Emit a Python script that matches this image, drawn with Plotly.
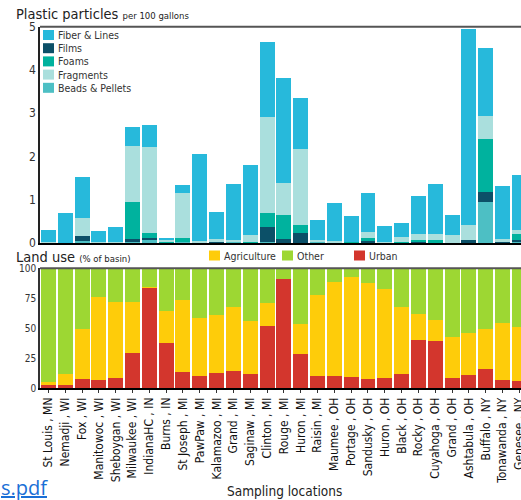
import plotly.graph_objects as go

locations = ["St Louis , MN", "Nemadji , WI", "Fox , WI", "Manitowoc , WI", "Sheboygan , WI",
             "Milwaukee , WI", "IndianaHC , IN", "Burns , IN", "St Joseph , MI", "PawPaw , MI",
             "Kalamazoo , MI", "Grand , MI", "Saginaw , MI", "Clinton , MI", "Rouge , MI",
             "Huron , MI", "Raisin , MI", "Maumee , OH", "Portage , OH", "Sandusky , OH",
             "Huron , OH", "Black , OH", "Rocky , OH", "Cuyahoga , OH", "Grand , OH",
             "Ashtabula , OH", "Buffalo , NY", "Tonawanda , NY", "Genesee , NY"]

fiber = [0.27, 0.69, 0.95, 0.25, 0.34, 0.44, 0.51, 0.05, 0.18, 2.01, 0.62, 1.29, 1.62, 1.73, 2.43,
         1.18, 0.46, 0.88, 0.60, 0.90, 0.37, 0.32, 0.88, 1.16, 0.46, 4.53, 1.57, 1.22, 1.27]
films = [0.01, 0, 0.11, 0, 0, 0.04, 0.02, 0.02, 0, 0, 0.02, 0, 0, 0.35, 0.09,
         0.23, 0, 0, 0, 0.05, 0.01, 0, 0.05, 0, 0, 0.07, 0.23, 0.02, 0.05]
foams = [0, 0, 0, 0, 0, 0.855, 0.12, 0.03, 0.09, 0, 0, 0, 0.02, 0.32, 0.55,
         0.18, 0, 0, 0.02, 0.06, 0, 0.02, 0.02, 0.07, 0, 0, 1.22, 0.02, 0.14]
fragments = [0.01, 0, 0.42, 0.02, 0.02, 1.29, 1.99, 0.015, 1.04, 0.03, 0.07, 0.05, 0.15, 2.22, 0.74,
             1.76, 0.05, 0.03, 0, 0.14, 0.015, 0.11, 0.14, 0.14, 0.18, 0.35, 0.53, 0.04, 0.09]
beads = [0, 0, 0.05, 0.01, 0.01, 0.05, 0.09, 0, 0.02, 0.02, 0, 0.02, 0.01, 0.02, 0,
         0, 0.02, 0.01, 0, 0, 0, 0.01, 0, 0, 0, 0, 0.95, 0.01, 0.02]

urban = [2.5, 2.5, 7.5, 6.7, 8.4, 29.2, 83.6, 37.6, 13.4, 10.0, 12.5, 14.2, 11.7, 51.8, 91.1,
         28.4, 10.0, 10.0, 9.2, 7.5, 8.4, 11.7, 40.1, 39.3, 8.4, 10.9, 15.9, 6.7, 5.8]
agriculture = [2.5, 9.2, 41.8, 69.3, 63.5, 42.7, 0.8, 26.7, 60.1, 48.5, 48.5, 53.5, 44.3, 19.2, 0,
               25.1, 67.7, 78.6, 83.6, 80.2, 74.3, 56.0, 21.7, 17.5, 34.2, 35.1, 33.4, 47.6, 45.2]
other = [95.0, 88.3, 50.7, 24.0, 28.1, 28.1, 15.6, 35.7, 26.5, 41.5, 39.0, 32.3, 44.0, 29.0, 8.9,
         46.5, 22.3, 11.4, 7.2, 12.3, 17.3, 32.3, 38.2, 43.2, 57.4, 54.0, 50.7, 45.7, 49.0]

plastic_series = [("Beads & Pellets", beads, "#4DBFC4"),
                  ("Films", films, "#0C5068"),
                  ("Foams", foams, "#00B29E"),
                  ("Fragments", fragments, "#AADFDD"),
                  ("Fiber & Lines", fiber, "#27B9DB")]
plastic_legend = ["Fiber & Lines", "Films", "Foams", "Fragments", "Beads & Pellets"]
land_series = [("Urban", urban, "#D3362D"),
               ("Agriculture", agriculture, "#FECC0A"),
               ("Other", other, "#9DD733")]
land_legend = ["Agriculture", "Other", "Urban"]

W, H = 521, 500
ML = 40
FONT = "DejaVu Sans Condensed, DejaVu Sans, sans-serif"


def px_x(x):
    return (x - ML) / (W - ML)


def px_y(y):
    return (H - y) / H


fig = go.Figure()
for name, vals, col in plastic_series:
    fig.add_trace(go.Bar(x=locations, y=vals, name=name, marker=dict(color=col, line=dict(width=0)),
                         xaxis="x", yaxis="y", showlegend=False))
for name, vals, col in land_series:
    fig.add_trace(go.Bar(x=locations, y=vals, name=name, marker=dict(color=col, line=dict(width=0)),
                         xaxis="x2", yaxis="y2", showlegend=False))

top_dom = [px_y(243), px_y(26.7)]
bot_dom = [px_y(388), px_y(268.3)]
xr = [-0.5, -0.5 + (W - ML) / 16.82]

shapes = []
annotations = []
for yy in (top_dom[1], bot_dom[1]):
    shapes.append(dict(type="line", xref="paper", yref="paper", x0=0, x1=1, y0=yy, y1=yy,
                       line=dict(color="#555555", width=2)))

colmap = {n: c for n, _, c in plastic_series}
for i, name in enumerate(plastic_legend):
    yc = 35 + i * 13.2
    shapes.append(dict(type="rect", xref="paper", yref="paper",
                       x0=px_x(43), x1=px_x(54), y0=px_y(yc + 5), y1=px_y(yc - 5),
                       fillcolor=colmap[name], line=dict(width=0)))
    annotations.append(dict(text=name, xref="paper", yref="paper", x=px_x(56), y=px_y(yc),
                            xanchor="left", yanchor="middle", showarrow=False,
                            font=dict(family=FONT, size=10.5, color="#333333")))

lcol = {n: c for n, _, c in land_series}
lx = {"Agriculture": 209, "Other": 282, "Urban": 354}
for name in land_legend:
    x0 = lx[name]
    shapes.append(dict(type="rect", xref="paper", yref="paper",
                       x0=px_x(x0), x1=px_x(x0 + 11), y0=px_y(260.5), y1=px_y(250.5),
                       fillcolor=lcol[name], line=dict(width=0)))
    annotations.append(dict(text=name, xref="paper", yref="paper", x=px_x(x0 + 13), y=px_y(255.5),
                            xanchor="left", yanchor="middle", showarrow=False,
                            font=dict(family=FONT, size=10.5, color="#333333")))

annotations.append(dict(text="Plastic particles <span style='font-size:9.5px'>per 100 gallons</span>",
                        xref="paper", yref="paper", x=px_x(14), y=px_y(14), xanchor="left",
                        yanchor="middle", showarrow=False,
                        font=dict(family=FONT, size=14.5, color="#222222")))
annotations.append(dict(text="Land use <span style='font-size:9.5px'>(% of basin)</span>",
                        xref="paper", yref="paper", x=px_x(14), y=px_y(257), xanchor="left",
                        yanchor="middle", showarrow=False,
                        font=dict(family=FONT, size=14.5, color="#222222")))
annotations.append(dict(text="Sampling locations", xref="paper", yref="paper",
                        x=px_x(284), y=px_y(491), xanchor="center", yanchor="middle",
                        showarrow=False, font=dict(family=FONT, size=13.5, color="#222222")))
annotations.append(dict(text="<u>s.pdf</u>", xref="paper", yref="paper",
                        x=px_x(-1), y=px_y(487), xanchor="left", yanchor="middle",
                        showarrow=False, font=dict(family="Open Sans, sans-serif", size=20,
                                                   color="#1A6FD6")))

fig.update_layout(
    width=W, height=H,
    margin=dict(l=ML, r=0, t=0, b=0, autoexpand=False),
    paper_bgcolor="white", plot_bgcolor="white",
    barmode="stack", bargap=0.11,
    showlegend=False,
    font=dict(family=FONT, color="#333333"),
    xaxis=dict(domain=[0, 1], anchor="y", range=xr, showticklabels=False, ticks="",
               showline=True, linecolor="black", linewidth=2, showgrid=False, zeroline=False,
               fixedrange=True),
    yaxis=dict(domain=top_dom, anchor="x", range=[0, 5], tickvals=[0, 1, 2, 3, 4, 5],
               showline=True, linecolor="#222222", linewidth=1.5, showgrid=False, zeroline=False,
               ticks="", tickfont=dict(size=12, color="#333333"), automargin=False),
    xaxis2=dict(domain=[0, 1], anchor="y2", range=xr, tickangle=-90, ticks="outside", ticklen=3,
                tickcolor="#333333", showline=True, linecolor="black", linewidth=1.5,
                showgrid=False, zeroline=False, tickfont=dict(size=12, color="#111111"),
                automargin=False),
    yaxis2=dict(domain=bot_dom, anchor="x2", range=[0, 100], tickvals=[0, 25, 50, 75, 100],
                showline=True, linecolor="#333333", linewidth=1.5, showgrid=False, zeroline=False,
                ticks="", tickfont=dict(size=10, color="#333333"), automargin=False),
    shapes=shapes, annotations=annotations,
)

fig.write_html("out.html", config={"displayModeBar": False},
               post_script="document.body.style.margin='0';document.body.style.overflow='hidden';")
